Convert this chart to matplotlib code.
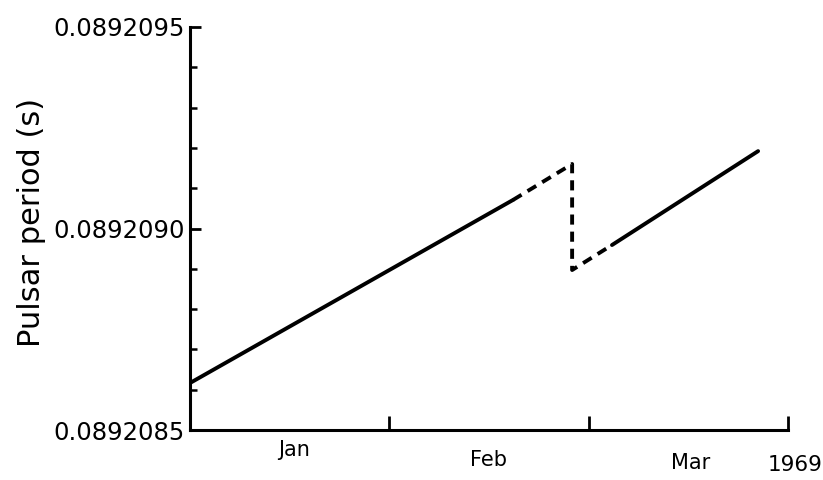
import numpy as np
import matplotlib as mpl
mpl.use('Agg')
import matplotlib.pyplot as plt
from matplotlib.ticker import FormatStrFormatter, MultipleLocator
from matplotlib.transforms import blended_transform_factory

# time in months since 1 Jan 1969, period in seconds
solid1_t = [0.0, 1.62]
solid1_p = [0.0892086166, 0.0892090707]
dashed_t = [1.62, 1.917, 1.917, 2.117]
dashed_p = [0.0892090707, 0.0892091600, 0.0892088970, 0.0892089590]
solid2_t = [2.117, 2.85]
solid2_p = [0.0892089590, 0.0892091920]

months = ['Jan', 'Feb', 'Mar']
month_pos = [0.52, 1.5, 2.51]
month_drop = [-0.05, -0.074, -0.082]   # scan is a bit tilted
year_label = '1969'

fig = plt.figure(figsize=(8.23, 4.8), dpi=100)
ax = fig.add_axes([190 / 823., 50 / 480., 598 / 823., 403 / 480.])

lw = 2.8
ax.plot(solid1_t, solid1_p, 'k-', linewidth=lw, solid_capstyle='round')
ax.plot(dashed_t, dashed_p, color='k', linewidth=lw, linestyle=(0, (2.6, 1.8)))
ax.plot(solid2_t, solid2_p, 'k-', linewidth=lw, solid_capstyle='round')

ax.set_xlim(0, 3)
ax.set_ylim(0.0892085, 0.0892095)

ax.spines['top'].set_visible(False)
ax.spines['right'].set_visible(False)
ax.spines['left'].set_linewidth(2.2)
ax.spines['bottom'].set_linewidth(2.2)

ax.yaxis.set_major_locator(MultipleLocator(0.0000005))
ax.yaxis.set_minor_locator(MultipleLocator(0.0000001))
ax.yaxis.set_major_formatter(FormatStrFormatter('%.7f'))
ax.tick_params(axis='y', which='major', direction='in', length=8, width=2, labelsize=17.5, pad=4)
ax.tick_params(axis='y', which='minor', direction='in', length=5, width=1.8)

ax.set_xticks([1, 2, 3])
ax.set_xticklabels([])
ax.tick_params(axis='x', which='major', direction='in', length=10, width=2)

tr = blended_transform_factory(ax.transData, ax.transAxes)
for m, x, y in zip(months, month_pos, month_drop):
    ax.text(x, y, m, transform=tr, ha='center', va='center', fontsize=15)
ax.text(3.035, -0.087, year_label, transform=tr, ha='center', va='center', fontsize=15.5,
        clip_on=False)

ax.set_ylabel('Pulsar period (s)', fontsize=22)
ax.yaxis.set_label_coords(-0.24, 0.516)

plt.savefig('out.png', dpi=100)
